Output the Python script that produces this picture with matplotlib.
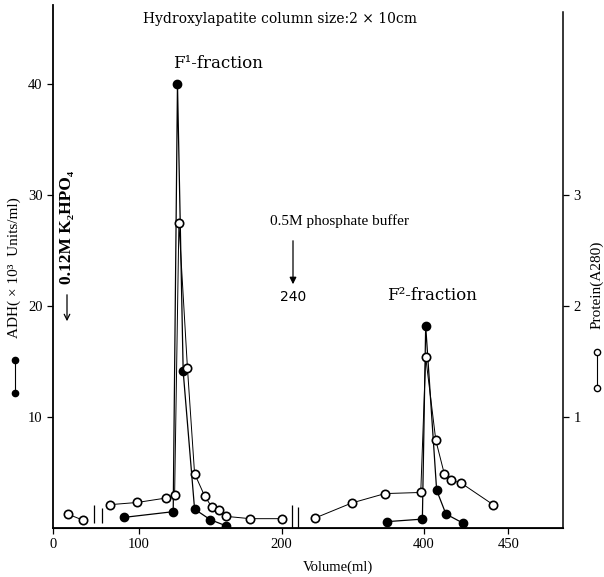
import numpy as np
import matplotlib
matplotlib.use("Agg")
import matplotlib.pyplot as plt
from matplotlib.lines import Line2D
from matplotlib.patches import FancyArrowPatch

plt.rcParams['font.family'] = ['Liberation Serif', 'DejaVu Serif']

# elution volume (ml) and activity / absorbance
adh_ml = [83, 124, 127, 131, 139, 150, 161, 354, 398, 401, 407.5, 413, 423]
adh_val = [0.96, 1.47, 40.0, 14.1, 1.7, 0.75, 0.2, 0.57, 0.8, 18.2, 3.4, 1.26, 0.45]

prot_ml = [17, 35, 66, 98, 119, 125, 128, 134, 139, 146, 151, 156, 161, 178, 200,
           266, 311, 352, 396, 401, 407, 412, 416, 422, 441]
prot_val = [0.126, 0.07, 0.21, 0.23, 0.27, 0.30, 2.75, 1.44, 0.49, 0.29, 0.19, 0.16,
            0.105, 0.084, 0.084, 0.09, 0.225, 0.31, 0.32, 1.54, 0.79, 0.49, 0.43,
            0.405, 0.21]

# axis breaks (ml) - the hand-drawn axis is not linear
breaks = [52, 239]
x_ticks = [0, 100, 200, 400, 450]
x_tick_labels = ["0", "100", "200", "400", "450"]
left_ticks = [10, 20, 30, 40]
right_ticks = [1, 2, 3]

# piecewise axis of the original drawing
knot_ml = np.array([0, 100, 200, 240, 400, 450, 482])
knot_pos = np.array([53, 139, 281.5, 294, 424, 508.3, 563])


def fwd(x):
    return np.interp(x, knot_ml, knot_pos)


def inv(p):
    return np.interp(p, knot_pos, knot_ml)


def split(xs, ys):
    xs = np.asarray(xs, float)
    ys = np.asarray(ys, float)
    edges = [-np.inf] + breaks + [np.inf]
    for lo, hi in zip(edges[:-1], edges[1:]):
        m = (xs > lo) & (xs < hi)
        if m.any():
            yield xs[m], ys[m]


def fx(px):
    return px / 604


def fy(py):
    return 1 - py / 577


fig = plt.figure(figsize=(6.04, 5.77), dpi=100)
ax = fig.add_axes([fx(53), fy(528), 510 / 604, 523 / 577])
ax.set_xscale("function", functions=(fwd, inv))
ax.set_xlim(0, 482)
ax.set_ylim(0, 47.1)

ax2 = ax.twinx()
ax2.set_ylim(0, 4.71)

for xs, ys in split(adh_ml, adh_val):
    ax.plot(xs, ys, color="black", lw=0.9, marker="o", ms=6,
            mfc="black", mec="black", zorder=3)
for xs, ys in split(prot_ml, prot_val):
    ax2.plot(xs, ys, color="black", lw=0.7, marker="o", ms=6,
             mfc="white", mec="black", mew=1.2, zorder=3)

# break marks
ax.vlines([48, 57], [0.45, 0.45], [2.1, 1.8], color="black", lw=0.9)
ax.vlines([233, 245], [0, 0], [2.1, 1.9], color="black", lw=0.9)

for a in (ax, ax2):
    a.spines["top"].set_visible(False)
ax2.spines["left"].set_visible(False)
ax.spines["right"].set_visible(False)
ax2.spines["right"].set_bounds(0, 4.65)
for s in ("left", "bottom"):
    ax.spines[s].set_linewidth(1.3)
ax2.spines["right"].set_linewidth(1.1)

ax.set_xticks(x_ticks)
ax.set_xticklabels(x_tick_labels)
ax.set_yticks(left_ticks)
ax2.set_yticks(right_ticks)
ax.tick_params(direction="out", length=4, width=0.9, labelsize=10.5)
ax2.tick_params(direction="out", length=4, width=0.9, labelsize=10.5)

# axis labels
fig.text(fx(338), fy(567), "Volume(ml)", ha="center", va="center", fontsize=10.5)
fig.text(fx(14), fy(268), "ADH( × 10³  Units/ml)", rotation=90,
         ha="center", va="center", fontsize=11)
fig.text(fx(597), fy(285), "Protein(A280)", rotation=90,
         ha="center", va="center", fontsize=11)
# series keys next to the axis labels
fig.add_artist(Line2D([fx(15), fx(15)], [fy(393), fy(360)], color="black", lw=0.8,
                      marker="o", ms=4.5, mfc="black", mec="black"))
fig.add_artist(Line2D([fx(597), fx(597)], [fy(388), fy(352)], color="black", lw=0.8,
                      marker="o", ms=4.5, mfc="white", mec="black"))

# annotations
fig.text(fx(280), fy(19), "Hydroxylapatite column size:2 × 10cm",
         ha="center", va="center", fontsize=10, family="DejaVu Serif")
fig.text(fx(218), fy(64), "F¹-fraction", ha="center", va="center", fontsize=12,
         family="DejaVu Serif")
fig.text(fx(432), fy(296), "F²-fraction", ha="center", va="center", fontsize=12,
         family="DejaVu Serif")
fig.text(fx(340), fy(221), "0.5M phosphate buffer", ha="center",
         va="center", fontsize=11)
fig.text(fx(293), fy(297), "240", ha="center", va="center", fontsize=10,
         family="DejaVu Sans")
fig.text(fx(67), fy(227), "0.12M K₂HPO₄", rotation=90, ha="center",
         va="center", fontsize=12.5, fontweight="bold")

fig.add_artist(FancyArrowPatch(
    (fx(293), fy(238)), (fx(293), fy(287)),
    transform=fig.transFigure, arrowstyle="-|>", mutation_scale=10,
    color="black", lw=0.9))
fig.add_artist(FancyArrowPatch(
    (fx(67), fy(292)), (fx(67), fy(324)),
    transform=fig.transFigure, arrowstyle="->", mutation_scale=10,
    color="black", lw=0.9))

fig.savefig("out.png", dpi=100)
